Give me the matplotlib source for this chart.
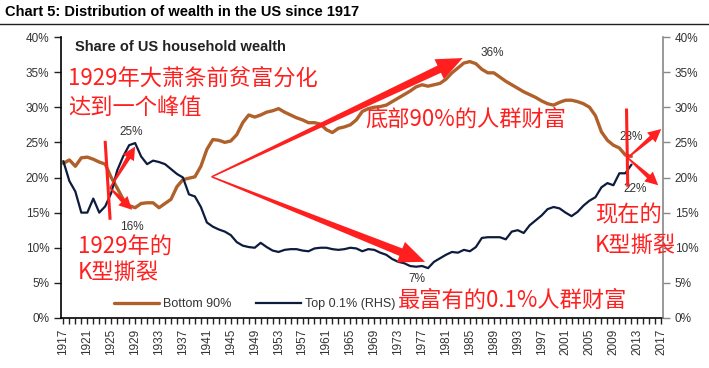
import numpy as np
import matplotlib
matplotlib.use('Agg')
from matplotlib import pyplot as plt
from matplotlib.patches import Polygon
from matplotlib.lines import Line2D

plt.rcParams['font.family'] = ['Liberation Sans', 'DejaVu Sans']

years = list(range(1917, 2013))

bottom90 = [22.0, 22.5, 21.6, 22.8, 22.9, 22.6, 22.2, 21.9, 20.0, 18.5,
            16.9, 16.0, 15.7, 16.3, 16.4, 16.4, 15.7, 16.3, 16.9, 18.7,
            19.7, 19.9, 20.1, 21.6, 24.0, 25.4, 25.3, 25.0, 25.2, 26.1,
            27.8, 28.9, 28.6, 28.9, 29.3, 29.5, 29.8, 29.3, 28.9, 28.5,
            28.2, 27.8, 27.8, 27.6, 26.8, 26.4, 27.0, 27.2, 27.5, 28.2,
            29.4, 29.8, 30.0, 30.1, 30.3, 30.8, 31.3, 31.8, 32.3, 32.9,
            33.2, 33.0, 33.2, 33.4, 34.0, 34.9, 35.6, 36.3, 36.5, 36.2,
            35.4, 34.9, 34.9, 34.3, 33.7, 33.2, 32.7, 32.2, 31.8, 31.4,
            30.9, 30.5, 30.3, 30.7, 31.0, 31.0, 30.8, 30.5, 30.0, 28.8,
            26.5, 25.3, 24.6, 24.2, 23.2, 23.0]

top01 = [22.3, 19.5, 18.0, 15.0, 15.0, 17.0, 15.0, 15.9, 17.8, 21.0,
         23.0, 24.6, 24.9, 23.0, 21.9, 22.4, 22.2, 21.9, 21.2, 20.5,
         20.0, 17.6, 17.3, 15.8, 13.6, 13.0, 12.6, 12.3, 11.8, 10.8,
         10.3, 10.1, 10.0, 10.7, 10.1, 9.6, 9.4, 9.7, 9.8, 9.8,
         9.6, 9.5, 9.9, 10.0, 10.0, 9.8, 9.7, 9.8, 10.0, 9.9,
         9.5, 9.8, 9.7, 9.3, 9.0, 8.4, 8.0, 7.8, 7.4, 7.3,
         7.4, 7.1, 8.0, 8.5, 9.0, 9.4, 9.3, 9.7, 9.5, 10.1,
         11.4, 11.5, 11.5, 11.5, 11.2, 12.3, 12.5, 12.1, 13.2, 13.9,
         14.6, 15.5, 15.8, 15.6, 15.0, 14.5, 15.1, 16.0, 16.7, 17.2,
         18.6, 19.2, 18.9, 20.6, 20.6, 21.8]

tick_years = list(range(1917, 2018, 4))
pct_ticks = [0, 5, 10, 15, 20, 25, 30, 35, 40]

brown = '#b0602a'
navy = '#0d1b3d'
red = '#ff1f1f'
grey_txt = '#333333'

W, H = 709, 368
fig = plt.figure(figsize=(W / 100, H / 100), dpi=100)
ax = fig.add_axes([61 / W, 1 - 318 / H, (663 - 61) / W, (318 - 37) / H])

ax.plot(years, bottom90, color=brown, lw=2.4, label='Bottom 90%', solid_capstyle='round')
ax.plot(years, top01, color=navy, lw=1.6, label='Top 0.1% (RHS)')

ax.set_xlim(1916.6, 2017.3)
ax.set_ylim(0, 40)
ax.set_xticks(tick_years)
ax.set_xticks(range(1917, 2018), minor=True)
ax.set_xticklabels([str(y) for y in tick_years], rotation=90, fontsize=8.5, color=grey_txt)
ax.set_yticks(pct_ticks)
ax.set_yticklabels([f'{v}%' for v in pct_ticks], fontsize=8.5, color=grey_txt)
ax.tick_params(axis='x', which='both', direction='out', length=4, width=1, color='#222222')
ax.tick_params(axis='y', direction='out', length=5, width=1, color='#222222')
for s in ['top', 'right']:
    ax.spines[s].set_visible(False)
ax.spines['left'].set_linewidth(1.2)
ax.spines['bottom'].set_linewidth(1.2)

ax2 = ax.twinx()
ax2.set_ylim(0, 40)
ax2.set_yticks(pct_ticks)
ax2.set_yticklabels([f'{v}%' for v in pct_ticks], fontsize=8.5, color=grey_txt)
ax2.tick_params(axis='y', direction='out', length=5, width=1, color='#888888')
for s in ['top', 'left', 'bottom']:
    ax2.spines[s].set_visible(False)
ax2.spines['right'].set_color('#888888')
ax2.spines['right'].set_linewidth(1.2)

leg = ax.legend(loc='center left', bbox_to_anchor=(108 / W, 1 - 304 / H),
                bbox_transform=fig.transFigure, ncol=2, frameon=False, fontsize=9,
                handlelength=3.6, handletextpad=0.3, columnspacing=2.0, borderpad=0)
for t in leg.get_texts():
    t.set_color(grey_txt)

# title
fig.text(5 / W, 1 - 12 / H, 'Chart 5: Distribution of wealth in the US since 1917',
         fontsize=10.5, fontweight='bold', va='center', ha='left',
         family=['Liberation Sans Narrow', 'Liberation Sans'])
fig.add_artist(Line2D([0, 1], [1 - 24 / H, 1 - 24 / H], color='#222222', lw=1))
fig.text(75 / W, 1 - 47 / H, 'Share of US household wealth', fontsize=10.5,
         fontweight='bold', va='center', ha='left', color='#222222',
         family=['Liberation Sans Narrow', 'Liberation Sans'])

# value labels
for x, y, s in [(1928.4, 26.5, '25%'), (1928.4, 13.0, '16%'), (1988.8, 37.7, '36%'),
                (1976.1, 5.5, '7%'), (2012.0, 25.8, '23%'), (2012.7, 18.3, '22%')]:
    ax.text(x, y, s, fontsize=8.5, color=grey_txt, ha='center', va='center')


def arrow(x0, y0, x1, y1, w0, w1, hw, hl):
    p0 = ax.transData.transform((x0, y0))
    p1 = ax.transData.transform((x1, y1))
    d = (p1 - p0) / np.hypot(*(p1 - p0))
    n = np.array([-d[1], d[0]])
    b = p1 - d * hl
    pts = [p0 + n * w0 / 2, b + n * w1 / 2, b + n * hw / 2, p1,
           b - n * hw / 2, b - n * w1 / 2, p0 - n * w0 / 2]
    pts = ax.transData.inverted().transform(np.array(pts))
    ax.add_patch(Polygon(pts, closed=True, color=red, lw=0, clip_on=False, zorder=5))


# big V arrows
arrow(1941.8, 20.1, 1983.8, 37.0, 1.5, 8, 22, 26)
arrow(1941.8, 20.1, 1977.5, 8.0, 1.5, 8, 22, 26)

# 1929 K
ax.plot([1924.0, 1924.8], [25.0, 14.2], color=red, lw=2.2, zorder=5)
arrow(1924.8, 18.5, 1929.0, 24.4, 1.5, 4.5, 13, 13)
arrow(1924.8, 18.5, 1928.5, 15.4, 1.5, 4.5, 13, 13)

# current K
ax.plot([2011.2, 2011.4], [29.6, 18.9], color=red, lw=2.2, zorder=5, clip_on=False)
arrow(2011.4, 22.8, 2017.0, 26.9, 1.5, 4.5, 13, 13)
arrow(2011.4, 22.8, 2016.5, 18.9, 1.5, 4.5, 13, 13)

cjk = ['Noto Sans CJK SC', 'DejaVu Sans']
for x, y, s in [(68, 78, '1929年大萧条前贫富分化'), (68, 107, '达到一个峰值'),
                (78, 247, '1929年的'), (78, 272, 'K型撕裂'),
                (365, 119, '底部90%的人群财富'), (398, 300, '最富有的0.1%人群财富'),
                (595, 215, '现在的'), (595, 245, 'K型撕裂')]:
    fig.text(x / W, 1 - y / H, s, fontsize=16, color=red, ha='left', va='center', family=cjk)

fig.savefig('out.png', dpi=100)
